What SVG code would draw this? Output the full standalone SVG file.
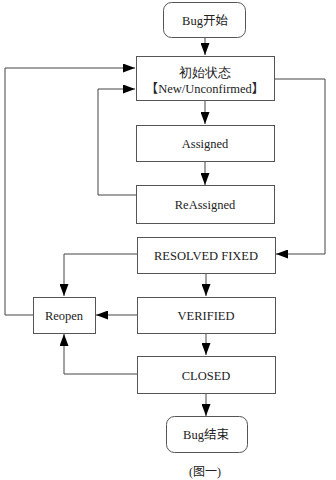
<svg xmlns="http://www.w3.org/2000/svg" width="336" height="480" viewBox="0 0 336 480">
<style>
.box{fill:#fff;stroke:#555;stroke-width:1}
.t{font-family:"Liberation Serif","Times New Roman","DejaVu Serif",serif;font-size:12.5px;fill:#222;text-anchor:middle}
.c{fill:none;stroke:#444;stroke-width:1}
</style>
<defs>
<marker id="ah" markerWidth="12" markerHeight="9" refX="12" refY="4.5" orient="auto" markerUnits="userSpaceOnUse">
<path d="M0,0 L12,4.5 L0,9 z" fill="#000"/>
</marker>
</defs>
<rect width="336" height="480" fill="#fff"/>
<g id="connectors">
<path class="c" d="M205,37 V55" marker-end="url(#ah)"/>
<path class="c" d="M205,100 V124" marker-end="url(#ah)"/>
<path class="c" d="M205,161 V185" marker-end="url(#ah)"/>
<path class="c" d="M136,195 H98 V89 H135" marker-end="url(#ah)"/>
<path class="c" d="M274,79 H325 V254 H276" marker-end="url(#ah)"/>
<path class="c" d="M137,254 H64 V296" marker-end="url(#ah)"/>
<path class="c" d="M206,273 V296" marker-end="url(#ah)"/>
<path class="c" d="M137,315 H96" marker-end="url(#ah)"/>
<path class="c" d="M33,315 H5 V68 H135" marker-end="url(#ah)"/>
<path class="c" d="M206,333 V355" marker-end="url(#ah)"/>
<path class="c" d="M137,374 H64 V334" marker-end="url(#ah)"/>
<path class="c" d="M206,393 V416" marker-end="url(#ah)"/>
</g>
<g id="start"><rect class="box" x="163.5" y="2.5" width="82" height="35" rx="8"/><text class="t" x="205" y="24.5">Bug<tspan font-family="Noto Sans CJK SC">开始</tspan></text></g>
<g id="new"><rect class="box" x="136.5" y="56.5" width="138" height="44"/><text class="t" x="205" y="76.5" font-family="Noto Sans CJK SC">初始状态</text><text class="t" x="205" y="92.5"><tspan font-family="Noto Sans CJK SC">【</tspan>New/Unconfirmed<tspan font-family="Noto Sans CJK SC">】</tspan></text></g>
<g id="assigned"><rect class="box" x="136.5" y="125.5" width="138" height="36"/><text class="t" x="205" y="147.5">Assigned</text></g>
<g id="reassigned"><rect class="box" x="136.5" y="185.5" width="138" height="38"/><text class="t" x="205" y="208.5">ReAssigned</text></g>
<g id="resolved"><rect class="box" x="137.5" y="237.5" width="138" height="36"/><text class="t" x="206" y="259.5">RESOLVED FIXED</text></g>
<g id="reopen"><rect class="box" x="33.5" y="297.5" width="62" height="36"/><text class="t" x="64" y="319.5">Reopen</text></g>
<g id="verified"><rect class="box" x="137.5" y="297.5" width="138" height="36"/><text class="t" x="206" y="319.5">VERIFIED</text></g>
<g id="closed"><rect class="box" x="137.5" y="356.5" width="138" height="37"/><text class="t" x="206" y="379.5">CLOSED</text></g>
<g id="end"><rect class="box" x="166.5" y="416.5" width="81" height="36" rx="8"/><text class="t" x="206" y="438.5">Bug<tspan font-family="Noto Sans CJK SC">结束</tspan></text></g>
<text class="t" x="205" y="476" style="font-size:12px">(<tspan font-family="Noto Sans CJK SC">图一</tspan>)</text>
</svg>
